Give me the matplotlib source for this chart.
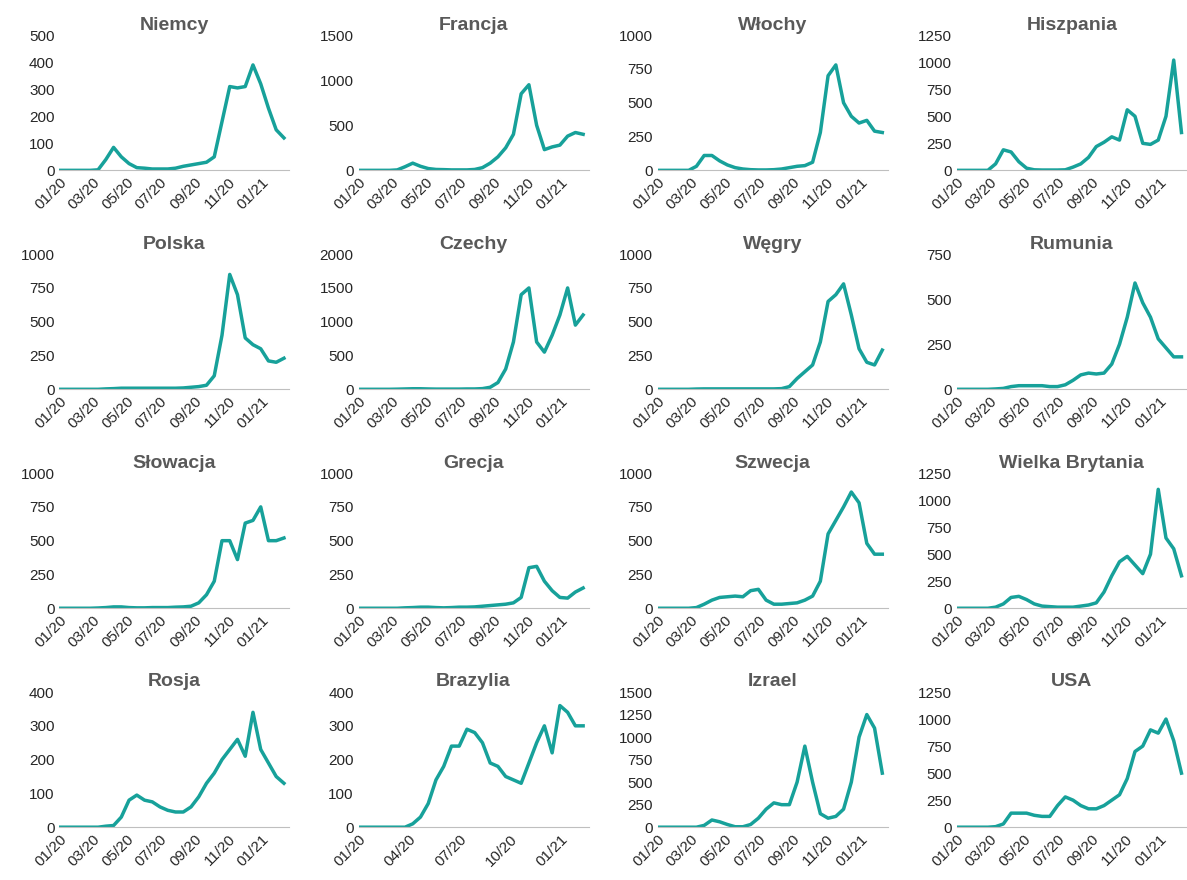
import numpy as np
import pandas as pd
import matplotlib.pyplot as plt
import matplotlib.dates as mdates

plt.rcParams['font.family'] = ['Liberation Sans', 'DejaVu Sans']

dates = pd.date_range('2020-01-01', periods=30, freq='14D')

countries = ['Niemcy', 'Francja', 'Włochy', 'Hiszpania',
             'Polska', 'Czechy', 'Węgry', 'Rumunia',
             'Słowacja', 'Grecja', 'Szwecja', 'Wielka Brytania',
             'Rosja', 'Brazylia', 'Izrael', 'USA']

niemcy = [0, 0, 0, 0, 0, 2, 40, 85, 50, 25, 10, 8, 5, 5, 5, 8, 15, 20, 25, 30, 50, 180, 310, 305, 310, 390, 320, 230, 150, 120]
francja = [0, 0, 0, 0, 0, 5, 40, 80, 45, 20, 10, 8, 5, 5, 5, 10, 30, 80, 150, 250, 400, 850, 950, 500, 230, 260, 280, 380, 420, 400]
wlochy = [0, 0, 0, 0, 0, 30, 110, 110, 70, 40, 20, 10, 5, 3, 3, 5, 10, 20, 30, 35, 60, 280, 700, 780, 500, 400, 350, 370, 290, 280]
hiszpania = [0, 0, 0, 0, 0, 60, 190, 170, 80, 20, 5, 3, 3, 3, 5, 30, 60, 120, 220, 260, 310, 280, 560, 500, 250, 240, 280, 500, 1020, 350]
polska = [0, 0, 0, 0, 0, 0, 3, 5, 8, 8, 8, 8, 8, 8, 8, 8, 10, 15, 20, 30, 100, 400, 850, 700, 380, 330, 300, 210, 200, 230]
czechy = [0, 0, 0, 0, 0, 2, 5, 8, 8, 5, 3, 3, 3, 3, 5, 5, 10, 30, 100, 300, 700, 1400, 1500, 700, 550, 800, 1100, 1500, 950, 1100]
wegry = [0, 0, 0, 0, 0, 2, 3, 3, 3, 3, 3, 3, 3, 3, 3, 3, 5, 20, 80, 130, 180, 350, 650, 700, 780, 550, 300, 200, 180, 290]
rumunia = [0, 0, 0, 0, 0, 2, 5, 15, 20, 20, 20, 20, 15, 15, 25, 50, 80, 90, 85, 90, 140, 250, 400, 590, 480, 400, 280, 230, 180, 180]
slowacja = [0, 0, 0, 0, 0, 2, 5, 10, 10, 5, 3, 3, 5, 5, 5, 8, 10, 15, 40, 100, 200, 500, 500, 360, 630, 650, 750, 500, 500, 520]
grecja = [0, 0, 0, 0, 0, 0, 3, 5, 8, 8, 5, 3, 5, 8, 8, 10, 15, 20, 25, 30, 40, 80, 300, 310, 200, 130, 80, 75, 120, 150]
szwecja = [0, 0, 0, 0, 0, 5, 30, 60, 80, 85, 90, 85, 130, 140, 60, 30, 30, 35, 40, 60, 90, 200, 550, 650, 750, 860, 780, 480, 400, 400]
wielka_brytania = [0, 0, 0, 0, 0, 10, 40, 100, 110, 80, 40, 20, 15, 10, 10, 10, 20, 30, 50, 150, 300, 430, 480, 400, 320, 500, 1100, 650, 550, 300]
rosja = [0, 0, 0, 0, 0, 0, 3, 5, 30, 80, 95, 80, 75, 60, 50, 45, 45, 60, 90, 130, 160, 200, 230, 260, 210, 340, 230, 190, 150, 130]
brazylia = [0, 0, 0, 0, 0, 0, 0, 10, 30, 70, 140, 180, 240, 240, 290, 280, 250, 190, 180, 150, 140, 130, 190, 250, 300, 220, 360, 340, 300, 300]
izrael = [0, 0, 0, 0, 0, 0, 20, 80, 60, 30, 5, 5, 30, 100, 200, 270, 250, 250, 500, 900, 500, 150, 100, 120, 200, 500, 1000, 1250, 1100, 600]
usa = [0, 0, 0, 0, 0, 5, 30, 130, 130, 130, 110, 100, 100, 200, 280, 250, 200, 170, 170, 200, 250, 300, 450, 700, 750, 900, 870, 1000, 800, 500]

series = [niemcy, francja, wlochy, hiszpania, polska, czechy, wegry, rumunia,
          slowacja, grecja, szwecja, wielka_brytania, rosja, brazylia, izrael, usa]
y_max = [500, 1500, 1000, 1250, 1000, 2000, 1000, 750, 1000, 1000, 1000, 1250, 400, 400, 1500, 1250]
y_step = [100, 500, 250, 250, 250, 500, 250, 250, 250, 250, 250, 250, 100, 100, 250, 250]

teal = '#17a19a'
grey = '#595959'

fig, axes = plt.subplots(4, 4, figsize=(11.87, 8.8), dpi=100)
fig.subplots_adjust(left=0.05, right=1.0, top=0.96, bottom=0.06, wspace=0.3, hspace=0.62)

for ax, name, vals, ym, st in zip(axes.flat, countries, series, y_max, y_step):
    ax.plot(dates, vals, color=teal, linewidth=2.5)
    ax.set_title(name, fontsize=14, fontweight='bold', color=grey, pad=4)
    ax.set_ylim(0, ym)
    ax.set_yticks(np.arange(0, ym + 1, st))
    ax.set_xlim(pd.Timestamp('2020-01-01'), pd.Timestamp('2021-02-20'))
    if name == 'Brazylia':
        ax.xaxis.set_major_locator(mdates.MonthLocator(bymonth=[1, 4, 7, 10]))
    else:
        ax.xaxis.set_major_locator(mdates.MonthLocator(bymonth=[1, 3, 5, 7, 9, 11]))
    ax.xaxis.set_major_formatter(mdates.DateFormatter('%m/%y'))
    for s in ['top', 'right', 'left']:
        ax.spines[s].set_visible(False)
    ax.spines['bottom'].set_color('#bfbfbf')
    ax.tick_params(axis='both', length=0, labelsize=11, colors='#262626')
    plt.setp(ax.get_xticklabels(), rotation=45, ha='right', rotation_mode='anchor')

fig.savefig('out.png')
